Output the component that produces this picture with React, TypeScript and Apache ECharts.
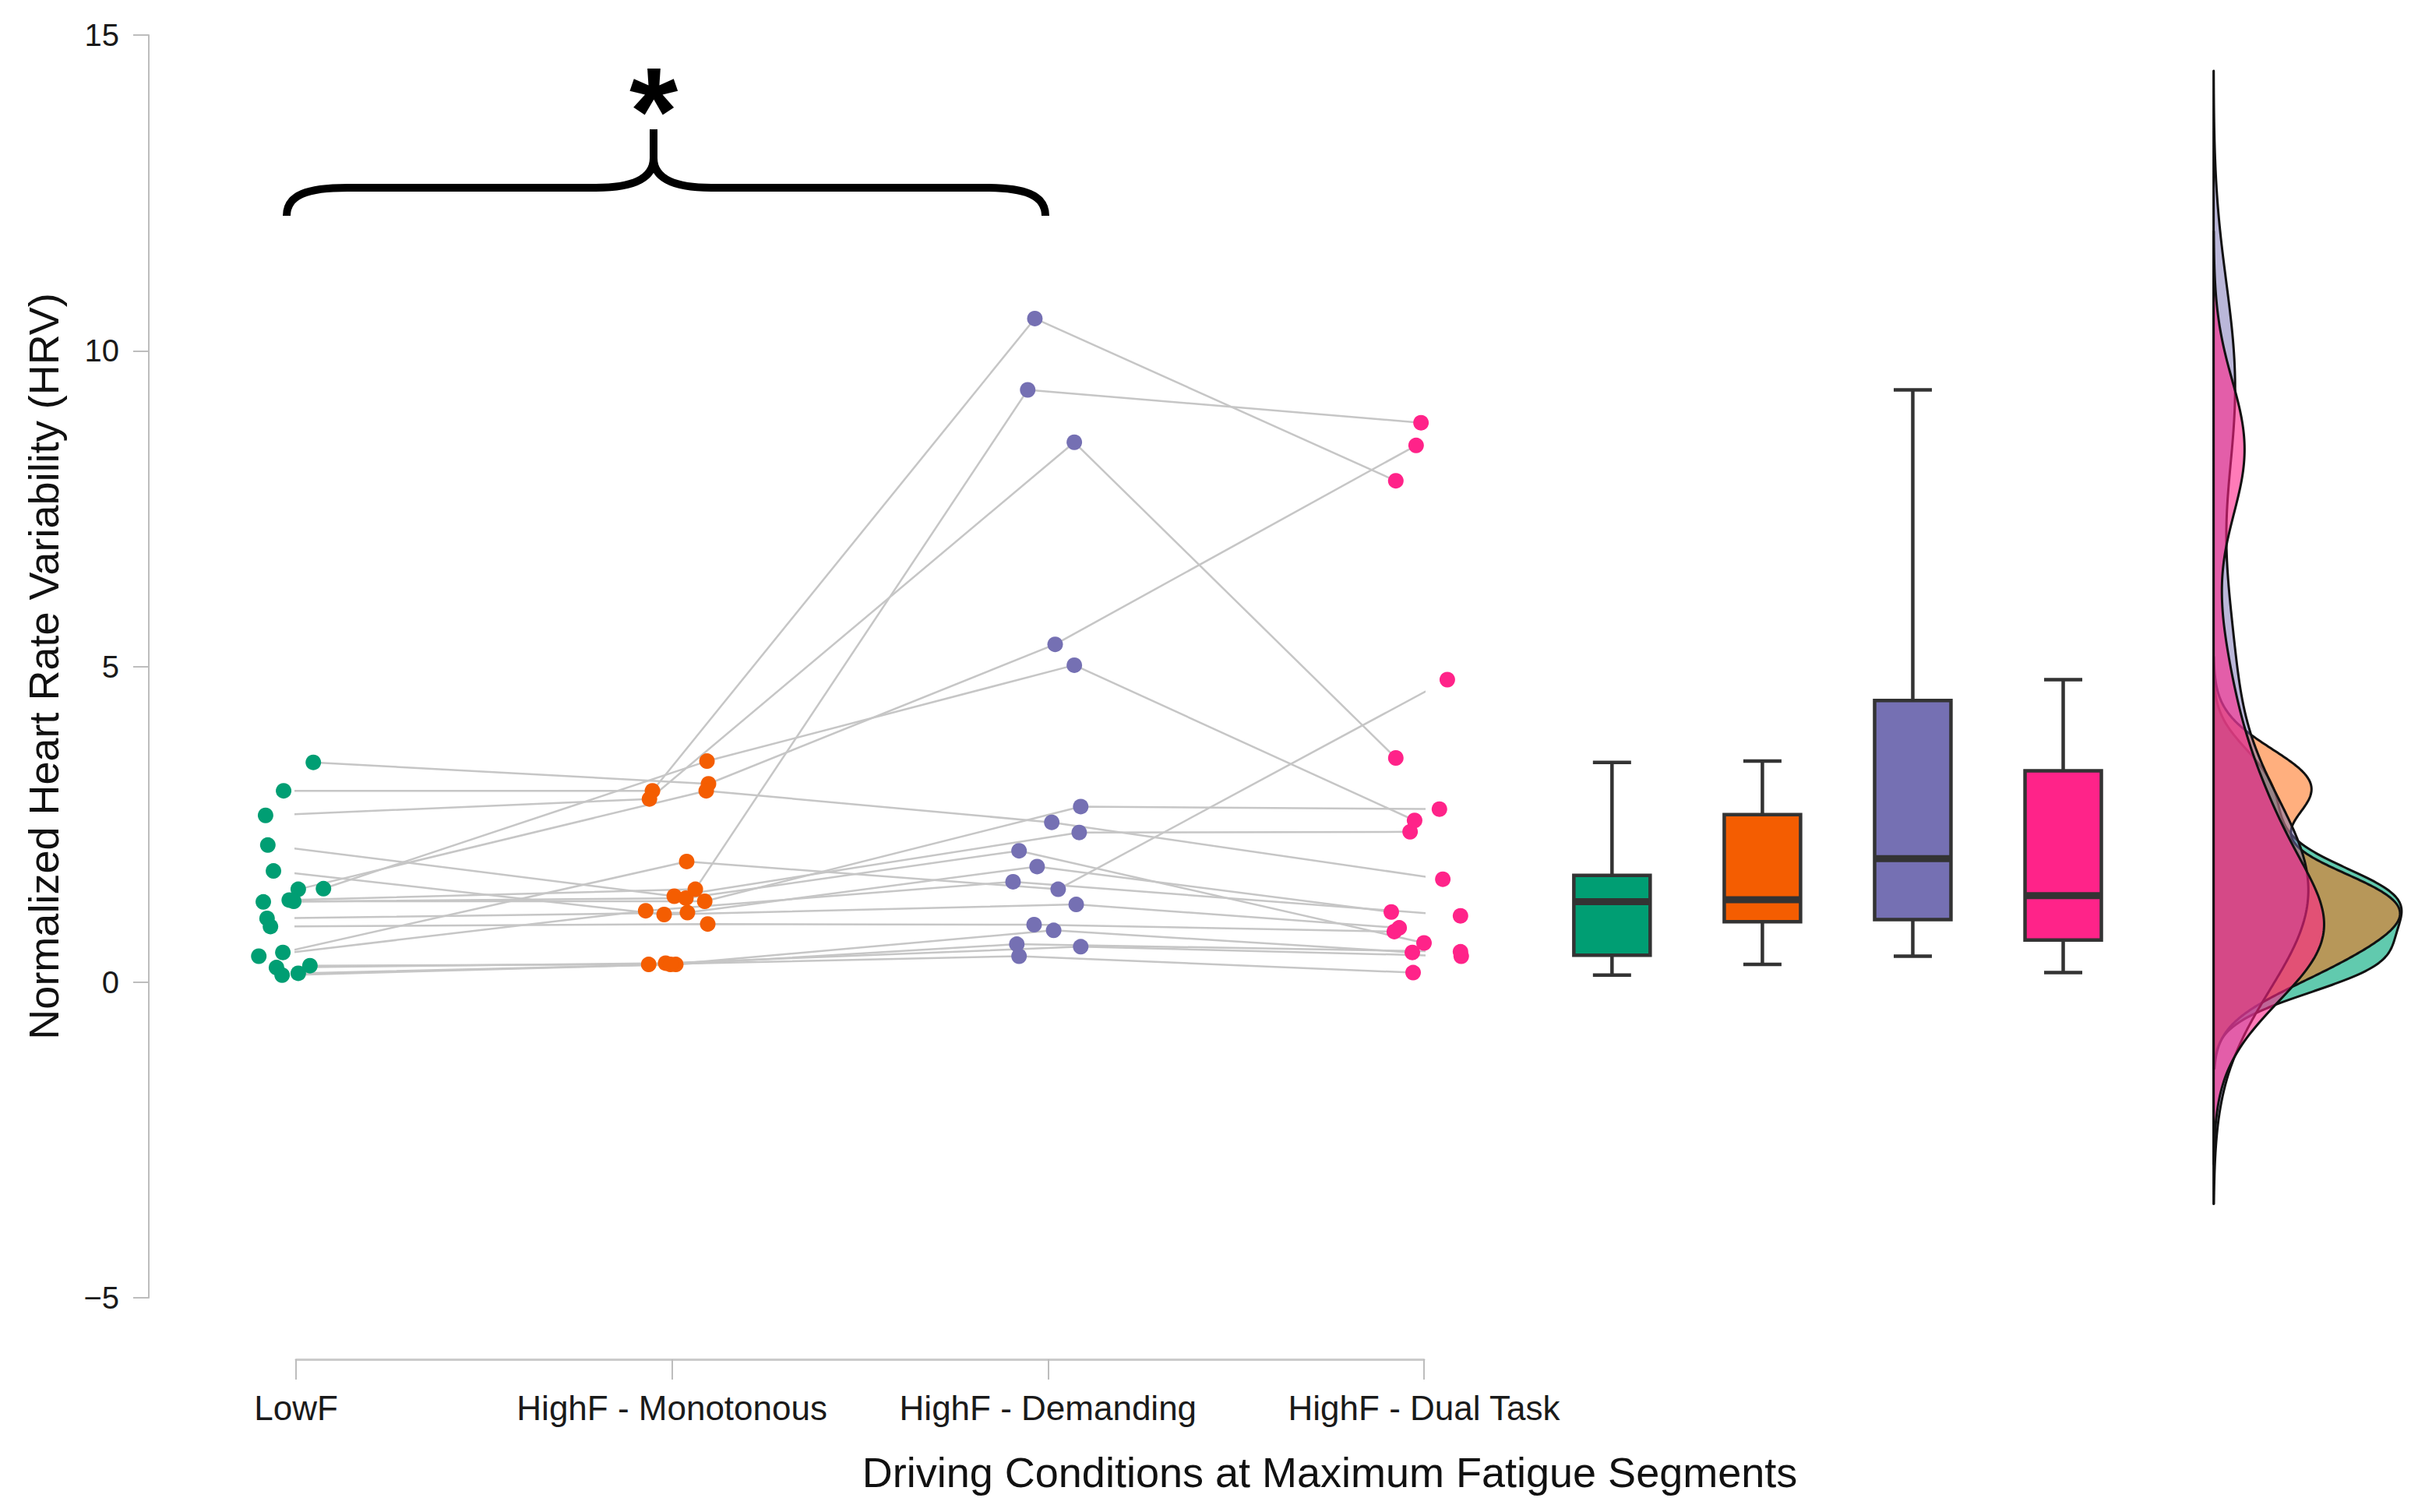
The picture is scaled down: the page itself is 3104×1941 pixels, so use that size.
import React, { useEffect, useRef } from "react";
import * as echarts from "echarts";

// ---------- data (one entry per participant, same order in every array) ----------
const categories = ["LowF", "HighF - Monotonous", "HighF - Demanding", "HighF - Dual Task"];
const groupColors = ["#009E73", "#F45D01", "#7570B3", "#FF2389"];
const densityFills = [
  "rgba(0,170,125,0.62)",
  "rgba(255,110,20,0.55)",
  "rgba(117,112,179,0.5)",
  "rgba(255,35,137,0.6)",
];

const lowF = [3.48, 3.03, 2.64, 2.17, 1.76, 1.48, 1.47, 1.28, 1.27, 1.3, 1.01, 0.88, 0.47, 0.41, 0.26, 0.23, 0.14, 0.11];
const monotonous = [3.14, 3.03, 2.9, 1.36, 1.07, 3.5, 3.03, 1.28, 1.33, 1.47, 1.1, 0.92, 1.91, 1.13, 0.28, 0.3, 0.28, 0.28];
const demanding = [5.35, 10.51, 8.55, 2.37, 1.23, 5.02, 2.53, 2.78, 2.08, 9.38, 1.83, 0.91, 1.47, 1.59, 0.41, 0.56, 0.6, 0.82];
const dualTask = [8.5, 7.94, 3.55, 2.38, 0.86, 2.56, 1.63, 2.74, 0.62, 8.86, 1.11, 0.8, 4.79, 1.05, 0.15, 0.41, 0.48, 0.47];

// horizontal jitter of each dot, in category units
const jitterLowF = [0.046, -0.033, -0.081, -0.075, -0.06, 0.073, 0.006, -0.006, -0.087, -0.018, -0.077, -0.068, -0.035, -0.099, 0.037, -0.052, 0.006, -0.037];
const jitterMonotonous = [0.097, -0.052, -0.06, 0.006, -0.021, 0.093, 0.091, 0.087, 0.037, 0.062, 0.041, 0.095, 0.039, -0.07, -0.062, -0.017, 0.01, -0.004];
const jitterDemanding = [0.019, -0.035, 0.07, 0.083, 0.075, 0.07, 0.01, 0.087, -0.077, -0.054, -0.029, -0.037, 0.027, -0.093, -0.077, 0.087, -0.083, 0.015];
const jitterDualTask = [-0.021, -0.075, -0.075, -0.037, -0.066, -0.025, 0.05, 0.041, 0.0, -0.008, -0.087, -0.079, 0.062, 0.097, -0.029, 0.099, 0.097, -0.031];

const yTicks = { min: -5, max: 15, interval: 5 };
const boxPositions = [3.5, 3.9, 4.3, 4.7];
const densityBase = 5.1;

const groups = [lowF, monotonous, demanding, dualTask];
const jitters = [jitterLowF, jitterMonotonous, jitterDemanding, jitterDualTask];

// ---------- statistics ----------
function quantile(sorted: number[], p: number) {
  const h = (sorted.length - 1) * p;
  const lo = Math.floor(h);
  const hi = Math.min(lo + 1, sorted.length - 1);
  return sorted[lo] + (h - lo) * (sorted[hi] - sorted[lo]);
}
function boxStats(values: number[]) {
  const s = [...values].sort((a, b) => a - b);
  const q1 = quantile(s, 0.25);
  const med = quantile(s, 0.5);
  const q3 = quantile(s, 0.75);
  const iqr = q3 - q1;
  const lo = s.filter((v) => v >= q1 - 1.5 * iqr)[0];
  const hiArr = s.filter((v) => v <= q3 + 1.5 * iqr);
  const hi = hiArr[hiArr.length - 1];
  return [lo, q1, med, q3, hi];
}
function kde(values: number[]) {
  const n = values.length;
  const s = [...values].sort((a, b) => a - b);
  const mean = s.reduce((a, b) => a + b, 0) / n;
  const sd = Math.sqrt(s.reduce((a, b) => a + (b - mean) * (b - mean), 0) / (n - 1));
  const iqr = quantile(s, 0.75) - quantile(s, 0.25);
  const bw = 0.9 * Math.min(sd, iqr / 1.34) * Math.pow(n, -0.2);
  const lo = s[0] - 3 * bw;
  const hi = s[n - 1] + 3 * bw;
  const pts: [number, number][] = [];
  const steps = 400;
  for (let k = 0; k <= steps; k++) {
    const y = lo + ((hi - lo) * k) / steps;
    let d = 0;
    for (const v of s) {
      const z = (y - v) / bw;
      d += Math.exp(-0.5 * z * z);
    }
    d /= n * bw * Math.sqrt(2 * Math.PI);
    pts.push([d, y]);
  }
  return pts;
}

export default function App() {
  const ref = useRef<HTMLDivElement>(null);

  useEffect(() => {
    document.body.style.margin = "0";
    if (!ref.current) return;
    const chart = echarts.init(ref.current, undefined, { renderer: "svg" });

    const densities = groups.map(kde);
    const maxD = Math.max(...densities.map((pts) => Math.max(...pts.map((p) => p[0]))));
    const densityWidth = 0.5; // widest density, in category units
    const dScale = densityWidth / maxD;

    const stats = groups.map(boxStats);
    const FONT = "Liberation Sans, Arial, sans-serif";

    const lineSeries = lowF.map((_, i) => ({
      type: "line",
      data: groups.map((g, c) => [c + jitters[c][i], g[i]]),
      symbol: "none",
      clip: false,
      silent: true,
      z: 1,
      lineStyle: { color: "#c6c6c6", width: 2.5 },
    }));

    const scatterSeries = groups.map((g, c) => ({
      type: "scatter",
      name: categories[c],
      data: g.map((v, i) => [c + jitters[c][i], v]),
      symbolSize: 20,
      clip: false,
      z: 3,
      itemStyle: { color: groupColors[c], opacity: 1 },
    }));

    const boxSeries = {
      type: "custom",
      clip: false,
      z: 3,
      data: stats.map((s, c) => [boxPositions[c], ...s]),
      encode: { x: 0, y: [1, 2, 3, 4, 5] },
      renderItem: (params: any, api: any) => {
        const x = api.value(0);
        const cx = api.coord([x, 0])[0];
        const yy = [1, 2, 3, 4, 5].map((k) => api.coord([x, api.value(k)])[1]);
        const w = api.size([0.203, 0])[0];
        const stroke = "#333333";
        const lw = 4.5;
        return {
          type: "group",
          children: [
            { type: "line", shape: { x1: cx, y1: yy[4], x2: cx, y2: yy[3] }, style: { stroke, lineWidth: lw } },
            { type: "line", shape: { x1: cx, y1: yy[0], x2: cx, y2: yy[1] }, style: { stroke, lineWidth: lw } },
            { type: "line", shape: { x1: cx - w / 4, y1: yy[4], x2: cx + w / 4, y2: yy[4] }, style: { stroke, lineWidth: lw } },
            { type: "line", shape: { x1: cx - w / 4, y1: yy[0], x2: cx + w / 4, y2: yy[0] }, style: { stroke, lineWidth: lw } },
            {
              type: "rect",
              shape: { x: cx - w / 2, y: yy[3], width: w, height: yy[1] - yy[3] },
              style: { fill: groupColors[params.dataIndex], stroke, lineWidth: lw },
            },
            { type: "line", shape: { x1: cx - w / 2, y1: yy[2], x2: cx + w / 2, y2: yy[2] }, style: { stroke, lineWidth: 9 } },
          ],
        };
      },
    };

    const densitySeries = {
      type: "custom",
      clip: false,
      z: 2,
      data: groups.map((_, c) => [densityBase, 0, c]),
      encode: { x: 0, y: 1 },
      renderItem: (params: any, api: any) => {
        const pts = densities[params.dataIndex];
        const poly = pts.map((p) => api.coord([densityBase + p[0] * dScale, p[1]]));
        const first = api.coord([densityBase, pts[0][1]]);
        const last = api.coord([densityBase, pts[pts.length - 1][1]]);
        return {
          type: "polygon",
          shape: { points: [first, ...poly, last] },
          style: { fill: densityFills[params.dataIndex], stroke: "#111111", lineWidth: 3, lineJoin: "round" },
        };
      },
    };

    const S = 10; // brace stroke
    const braceStyle = { stroke: "#000", lineWidth: S, fill: null };

    chart.setOption({
      animation: false,
      backgroundColor: "#ffffff",
      textStyle: { fontFamily: FONT },
      grid: { left: 380, right: 3104 - 1828, top: 45, bottom: 1941 - 1666, containLabel: false },
      xAxis: {
        type: "value",
        min: 0,
        max: 3,
        interval: 1,
        offset: 79,
        axisLine: { show: true, onZero: false, lineStyle: { color: "#cbcbcb", width: 3 } },
        axisTick: { show: true, length: 26, lineStyle: { color: "#bdbdbd", width: 2 } },
        splitLine: { show: false },
        axisLabel: {
          margin: 40,
          fontSize: 44,
          color: "#1a1a1a",
          fontFamily: FONT,
          formatter: (v: number) => categories[Math.round(v)] ?? "",
        },
      },
      yAxis: {
        type: "value",
        min: yTicks.min,
        max: yTicks.max,
        interval: yTicks.interval,
        offset: 189,
        name: "Normalized Heart Rate Variability (HRV)",
        nameLocation: "middle",
        nameGap: 108,
        nameTextStyle: { fontSize: 54, color: "#111", fontFamily: FONT },
        axisLine: { show: true, onZero: false, lineStyle: { color: "#bdbdbd", width: 2 } },
        axisTick: { show: true, length: 20, lineStyle: { color: "#bdbdbd", width: 2 } },
        splitLine: { show: false },
        axisLabel: {
          margin: 38,
          fontSize: 40,
          color: "#1a1a1a",
          fontFamily: FONT,
          formatter: (v: number) => (v < 0 ? "\u2212" + Math.abs(v) : String(v)),
        },
      },
      series: [...lineSeries, densitySeries, ...scatterSeries, boxSeries],
      graphic: [
        { type: "bezierCurve", shape: { x1: 368, y1: 277, cpx1: 368, cpy1: 250, cpx2: 395, cpy2: 241, x2: 446, y2: 241 }, style: braceStyle },
        { type: "line", shape: { x1: 445, y1: 241, x2: 766, y2: 241 }, style: braceStyle },
        { type: "bezierCurve", shape: { x1: 765, y1: 241, cpx1: 815, cpy1: 241, cpx2: 839, cpy2: 228, x2: 839, y2: 203 }, style: braceStyle },
        { type: "bezierCurve", shape: { x1: 839, y1: 203, cpx1: 839, cpy1: 228, cpx2: 863, cpy2: 241, x2: 913, y2: 241 }, style: braceStyle },
        { type: "line", shape: { x1: 912, y1: 241, x2: 1265, y2: 241 }, style: braceStyle },
        { type: "bezierCurve", shape: { x1: 1264, y1: 241, cpx1: 1315, cpy1: 241, cpx2: 1342, cpy2: 250, x2: 1342, y2: 277 }, style: braceStyle },
        { type: "line", shape: { x1: 839, y1: 207, x2: 839, y2: 166 }, style: braceStyle },
        {
          type: "text",
          x: 839,
          y: 142,
          style: { text: "*", fontSize: 160, fontWeight: "bold", fontFamily: FONT, fill: "#000", align: "center", verticalAlign: "middle" },
        },
        {
          type: "text",
          x: 1707,
          y: 1890,
          style: {
            text: "Driving Conditions at Maximum Fatigue Segments",
            fontSize: 54,
            fontFamily: FONT,
            fill: "#111",
            align: "center",
            verticalAlign: "middle",
          },
        },
      ],
    });

    return () => chart.dispose();
  }, []);

  return <div ref={ref} style={{ width: 3104, height: 1941 }} />;
}
